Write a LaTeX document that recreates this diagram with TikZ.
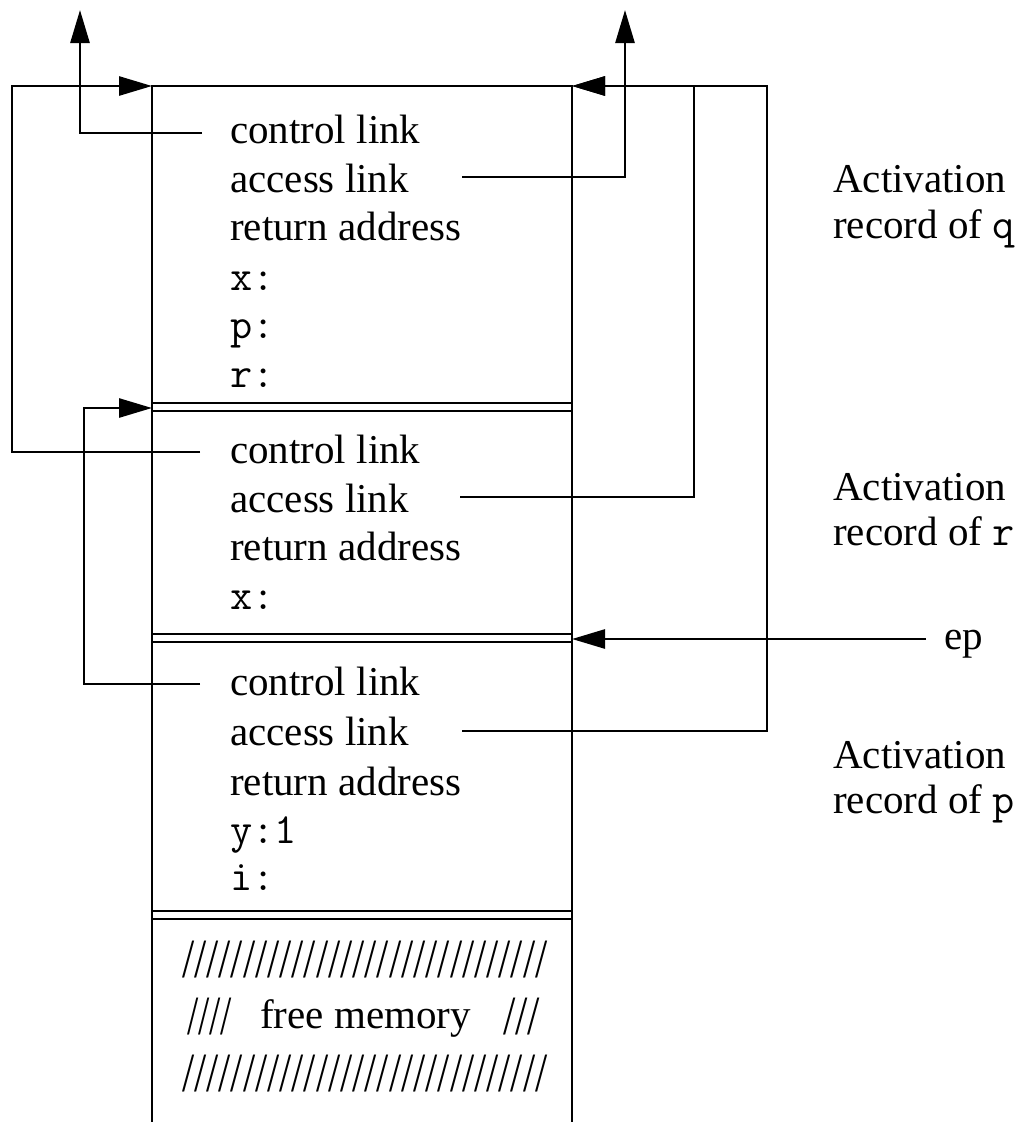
\documentclass[tikz,border=0pt]{standalone}
\usepackage{fontspec}
\setmainfont{Liberation Serif}
\usepackage{graphicx}
\usetikzlibrary{arrows.meta}
\begin{document}
\begin{tikzpicture}[x=1pt,y=-1pt,
  txt/.style={anchor=base west, inner sep=0pt, font=\fontsize{41}{48}\selectfont},
  mono/.style={anchor=base west, inner sep=0pt, font=\ttfamily\fontsize{43}{50}\selectfont},
  hatch/.style={anchor=south west, inner sep=0pt, font=\fontsize{40}{48}\selectfont},
  link/.style={line width=2.7pt, line join=miter},
  arr/.style={link, -{Triangle[length=33pt,width=19pt]}},
  boxline/.style={line width=2.7pt},
  sepline/.style={line width=2.2pt}]
\useasboundingbox (0,0) rectangle (1018,1122);

% box coordinates
\coordinate (boxTL) at (152,86);
\coordinate (boxTR) at (572,86);
\coordinate (boxBL) at (152,1122);
\coordinate (boxBR) at (572,1122);
\draw[boxline] (boxBL) -- (boxTL) -- (boxTR) -- (boxBR);
% double separators
\foreach \yy in {403,411,634,642,911,919}
  \draw[sepline] (152,\yy) -- (572,\yy);

% record q
\node[txt]  (qcl) at (230,143) {control link};
\node[txt]  (qal) at (230,192) {access link};
\node[txt]  (qra) at (230,240) {return address};
\node[mono] (qx)  at (230,290) {x:};
\node[mono] (qp)  at (230,338) {p:};
\node[mono] (qr)  at (230,387) {r:};
% record r
\node[txt]  (rcl) at (230,463) {control link};
\node[txt]  (ral) at (230,512) {access link};
\node[txt]  (rra) at (230,560) {return address};
\node[mono] (rx)  at (230,609) {x:};
% record p
\node[txt]  (pcl) at (230,695) {control link};
\node[txt]  (pal) at (230,745) {access link};
\node[txt]  (pra) at (230,795) {return address};
\node[mono] (py)  at (230,843) {y:1};
\node[mono] (pi)  at (230,890) {i:};

% free memory
\node[hatch] (h1) at (182,978) {\resizebox*{365pt}{37pt}{//////////////////////////////}};
\node[hatch] (h2a) at (187,1035) {\resizebox*{45pt}{37pt}{////}};
\node[txt]  (fm) at (260,1028) {free memory};
\node[hatch] (h2b) at (503,1035) {\resizebox*{37pt}{37pt}{///}};
\node[hatch] (h3) at (182,1092) {\resizebox*{365pt}{37pt}{//////////////////////////////}};

% right labels
\node[txt] (aq1) at (833,192) {Activation};
\node[txt] (aq2) at (833,238) {record of {\ttfamily\fontsize{43}{50}\selectfont q}};
\node[txt] (ar1) at (833,500) {Activation};
\node[txt] (ar2) at (833,545) {record of {\ttfamily\fontsize{43}{50}\selectfont r}};
\node[txt] (ap1) at (833,768) {Activation};
\node[txt] (ap2) at (833,813) {record of {\ttfamily\fontsize{43}{50}\selectfont p}};
\node[txt] (ep)  at (944,649) {ep};

% link start points
\coordinate (qclS) at (202,133);
\coordinate (qalS) at (462,177);
\coordinate (rclS) at (200,452);
\coordinate (ralS) at (460,497);
\coordinate (pclS) at (200,684);
\coordinate (palS) at (462,731);
\coordinate (epS)  at (926,639);
% bend / end points
\coordinate (qclT) at (80,10);
\coordinate (qalT) at (625,10);
\coordinate (lloop) at (12,86);
\coordinate (rtop) at (694,86);
\coordinate (ptop) at (767,86);
\coordinate (pleft) at (84,408);
\coordinate (rTL) at (152,408);
\coordinate (pTR) at (572,639);

% connectors
\draw[arr] (qclS) -| (qclT);
\draw[arr] (qalS) -| (qalT);
\draw[arr] (rclS) -| (lloop) -- (boxTL);
\draw[arr] (ralS) -| (rtop) -- (boxTR);
\draw[arr] (palS) -| (ptop) -- (boxTR);
\draw[arr] (pclS) -| (pleft) -- (rTL);
\draw[arr] (epS) -- (pTR);
\end{tikzpicture}
\end{document}
